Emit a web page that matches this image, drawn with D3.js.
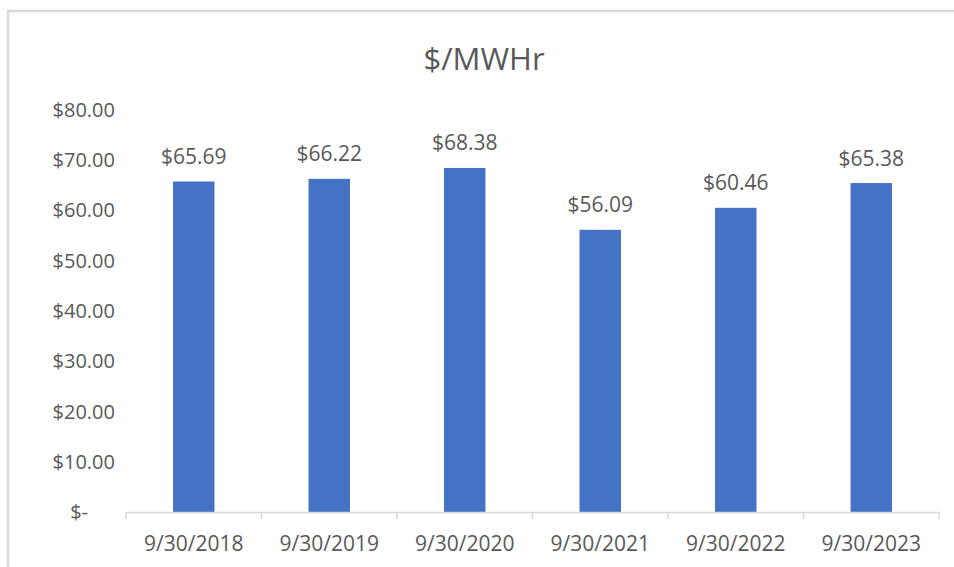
<!DOCTYPE html>
<html>
<head>
<meta charset="utf-8">
<script src="https://cdn.jsdelivr.net/npm/d3@7"></script>
<style>
  html, body { margin: 0; padding: 0; background: #fff; }
  svg { display: block; }
  text { font-family: "Open Sans", "DejaVu Sans", sans-serif; fill: #595959; }
</style>
</head>
<body>
<svg id="chart" width="954" height="567"></svg>
<script>
const categories = ["9/30/2018", "9/30/2019", "9/30/2020", "9/30/2021", "9/30/2022", "9/30/2023"];
const values = [65.69, 66.22, 68.38, 56.09, 60.46, 65.38];
const yTicks = [0, 10, 20, 30, 40, 50, 60, 70, 80];
const yTickLabels = ["$-", "$10.00", "$20.00", "$30.00", "$40.00", "$50.00", "$60.00", "$70.00", "$80.00"];
const title = "$/MWHr";

const svg = d3.select("#chart");

// chart border (only top/left visible in the frame)
svg.append("rect")
  .attr("x", 8).attr("y", 11)
  .attr("width", 960).attr("height", 570)
  .attr("fill", "none").attr("stroke", "#d9d9d9").attr("stroke-width", 2.5);

const plotLeft = 126, plotRight = 939, plotTop = 109.5, plotBottom = 512;

const x = d3.scaleBand().domain(categories).range([plotLeft, plotRight]).paddingInner(0.694).paddingOuter(0.347);
const xTicks = d3.scaleBand().domain(categories).range([plotLeft, plotRight]);
const y = d3.scaleLinear().domain([0, 80]).range([plotBottom, plotTop]);

// title
svg.append("text")
  .attr("x", 484).attr("y", 70)
  .attr("text-anchor", "middle")
  .style("font-size", "31px")
  .text(title);

// y axis labels
svg.append("g").selectAll("text").data(yTicks).join("text")
  .attr("x", d => d === 0 ? 88 : 115)
  .attr("y", d => y(d))
  .attr("dy", "0.36em")
  .attr("text-anchor", "end")
  .style("font-size", "20px")
  .text((d, i) => yTickLabels[i]);

// bars
svg.append("g").selectAll("rect").data(values).join("rect")
  .attr("x", (d, i) => x(categories[i]))
  .attr("width", x.bandwidth())
  .attr("y", d => y(d))
  .attr("height", d => y(0) - y(d))
  .attr("fill", "#4472C4");

// data labels
svg.append("g").selectAll("text").data(values).join("text")
  .attr("x", (d, i) => x(categories[i]) + x.bandwidth() / 2)
  .attr("y", d => y(d) - 17.5)
  .attr("text-anchor", "middle")
  .style("font-size", "21px")
  .text(d => "$" + d3.format(".2f")(d));

// x axis
const xAxis = d3.axisBottom(xTicks).tickSize(0).tickFormat(() => "");
const gx = svg.append("g").attr("transform", `translate(0,${plotBottom})`).call(xAxis);
gx.select(".domain").attr("stroke", "#d9d9d9").attr("stroke-width", 1.5);
gx.selectAll(".tick").remove();
const bounds = categories.map(c => xTicks(c)).concat([plotRight]);
svg.append("g").selectAll("line").data(bounds).join("line")
  .attr("x1", d => d).attr("x2", d => d)
  .attr("y1", plotBottom).attr("y2", plotBottom + 7)
  .attr("stroke", "#d9d9d9").attr("stroke-width", 1.5);

svg.append("g").selectAll("text").data(categories).join("text")
  .attr("x", d => xTicks(d) + xTicks.bandwidth() / 2)
  .attr("y", 551)
  .attr("text-anchor", "middle")
  .style("font-size", "21px")
  .text(d => d);
</script>
</body>
</html>
